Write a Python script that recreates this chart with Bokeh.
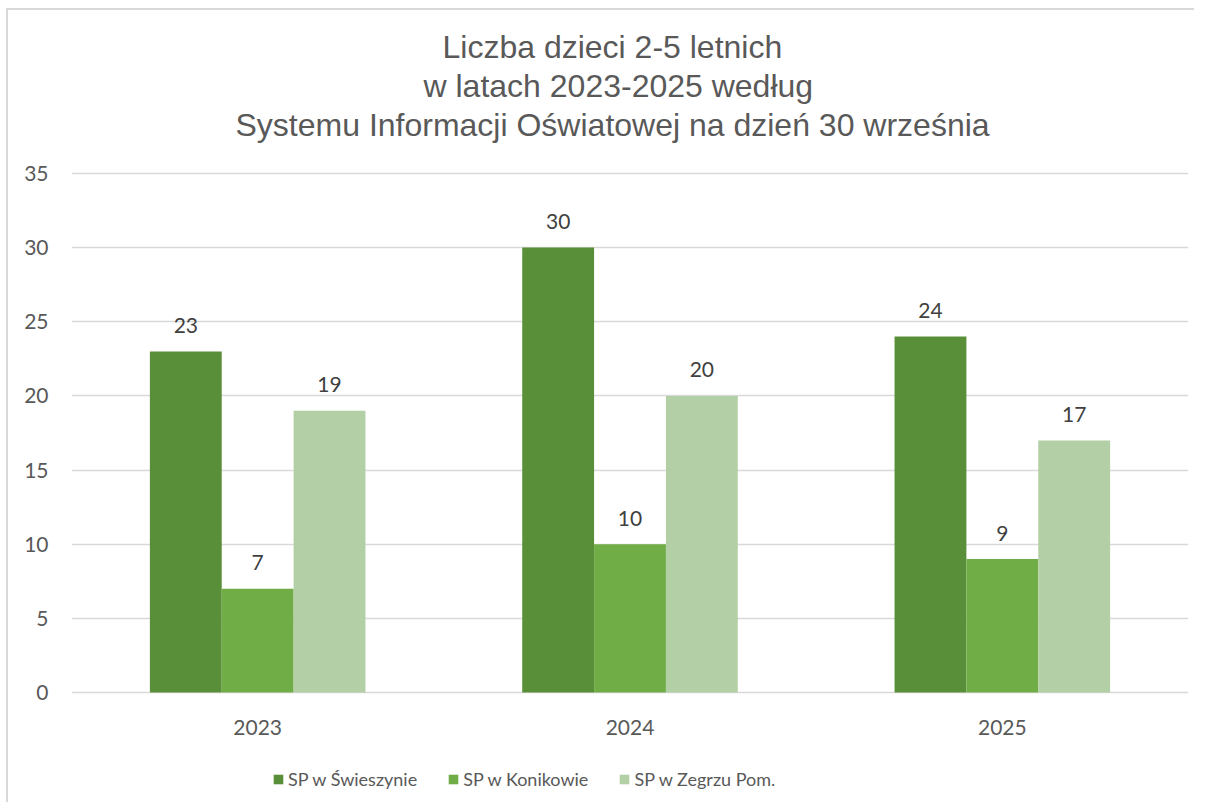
from bokeh.plotting import figure
from bokeh.models import ColumnDataSource, FactorRange, Range1d, Legend, LegendItem, Title, FixedTicker
from bokeh.transform import dodge
from bokeh.core.properties import value
from bokeh.embed import file_html
from bokeh.resources import INLINE

# ---- data ----
years = ["2023", "2024", "2025"]
series_names = ["SP w Świeszynie", "SP w Konikowie", "SP w Zegrzu Pom."]
sp_swieszyno = [23, 30, 24]
sp_konikowo = [7, 10, 9]
sp_zegrze = [19, 20, 17]
y_ticks = [0, 5, 10, 15, 20, 25, 30, 35]
title_lines = ["Liczba dzieci 2-5 letnich",
               "w latach 2023-2025 według",
               "Systemu Informacji Oświatowej na dzień 30 września"]
colors = ["#5A8F3A", "#70AD47", "#B3CFA5"]

# layout/style: left offsets of the title lines (px from the plot area's left edge)
title_offsets = [371, 352, 164]

src = ColumnDataSource(dict(
    year=years,
    s0=sp_swieszyno, s1=sp_konikowo, s2=sp_zegrze,
    t0=[str(v) for v in sp_swieszyno],
    t1=[str(v) for v in sp_konikowo],
    t2=[str(v) for v in sp_zegrze],
))

TXT = "#595959"
# frame extends below 0 to hold the axis labels and legend (like the chart area of the original)
p = figure(x_range=FactorRange(*years, range_padding=0), y_range=Range1d(-7.553, 37.02),
           width=1188, height=794, output_backend="svg", toolbar_location=None,
           min_border_left=63, min_border_right=8, min_border_top=133, min_border_bottom=0)
p.styles = {"border-left": "2px solid #d9d9d9", "border-top": "2px solid #d9d9d9",
            "margin-left": "6px", "margin-top": "8px"}
p.outline_line_color = None
p.background_fill_color = "white"
p.border_fill_color = "white"

bw = 0.193
offsets = [-bw, 0.0, bw]
renderers = []
for i in range(3):
    r = p.vbar(x=dodge("year", offsets[i], range=p.x_range), top="s%d" % i, bottom=0, width=bw,
               source=src, fill_color=colors[i], line_color=None)
    renderers.append(r)
    p.text(x=dodge("year", offsets[i], range=p.x_range), y="s%d" % i, text="t%d" % i,
           source=src, text_align="center", text_baseline="middle", y_offset=-26,
           text_font=value("Lato"), text_font_size="21px", text_color="#404040")

# axes
p.yaxis.ticker = FixedTicker(ticks=y_ticks)
p.yaxis.axis_line_color = None
p.yaxis.major_tick_line_color = None
p.yaxis.minor_tick_line_color = None
p.yaxis.major_label_standoff = 17
p.yaxis.major_label_text_font = "Lato"
p.yaxis.major_label_text_font_size = "21px"
p.yaxis.major_label_text_color = TXT

p.xaxis.fixed_location = 0
p.xaxis.axis_line_color = None
p.xaxis.major_tick_line_color = None
p.xaxis.major_label_standoff = 22
p.xaxis.major_label_text_font = "Lato"
p.xaxis.major_label_text_font_size = "21px"
p.xaxis.major_label_text_color = TXT

p.xgrid.grid_line_color = None
p.ygrid.grid_line_color = "#d9d9d9"
p.ygrid.grid_line_width = 1.5

# title lines (first added is innermost)
for line, off in reversed(list(zip(title_lines, title_offsets))):
    t = Title(text=line, align="left", text_font="Liberation Sans", text_font_size="32px",
              text_font_style="normal", text_color=TXT, standoff=1, offset=off)
    p.add_layout(t, "above")

legend = Legend(items=[LegendItem(label=series_names[i], renderers=[renderers[i]]) for i in range(3)],
                orientation="horizontal", location=(201, 14), spacing=30, padding=0, margin=0,
                glyph_width=12, glyph_height=12, label_standoff=4,
                label_text_font="Lato", label_text_font_size="18px", label_text_color=TXT,
                border_line_color=None, background_fill_alpha=0)
p.add_layout(legend, "center")

open("out.html", "w").write(file_html(p, INLINE))
